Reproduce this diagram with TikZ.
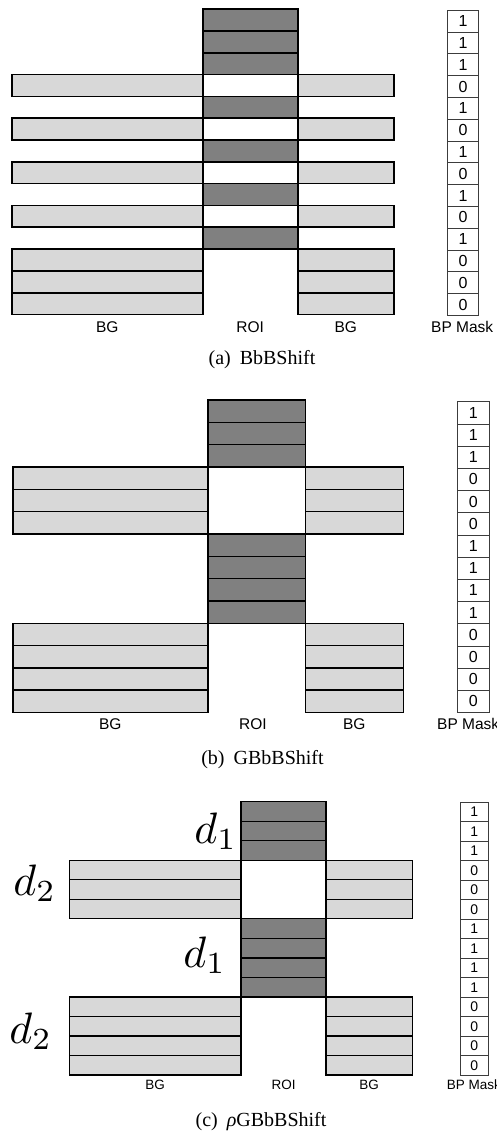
\documentclass[tikz,border=0pt]{standalone}
\usepackage{fontspec}
\setmainfont{Liberation Serif}
\newfontfamily\labfont{Liberation Sans}
\definecolor{roidark}{RGB}{128,128,128}
\definecolor{bglight}{RGB}{216,216,216}
\definecolor{maskline}{RGB}{60,60,60}
\begin{document}
\begin{tikzpicture}[x=1pt,y=-1pt,
  roi/.style={draw=black,line width=1.6pt,fill=roidark},
  hole/.style={draw=black,line width=1.6pt,fill=white},
  bg/.style={draw=black,line width=1.6pt,fill=bglight},
  maskcell/.style={draw=maskline,line width=0.8pt,fill=white,inner sep=0pt,font=\labfont\fontsize{16}{16}\selectfont},
  lab/.style={inner sep=0pt,font=\labfont\fontsize{15.5}{16}\selectfont},
  captext/.style={inner sep=0pt,font=\fontsize{20}{22}\selectfont},
  dlab/.style={inner sep=0pt,scale=4.4}]
\useasboundingbox (0,0) rectangle (496,1131);
\clip (0,0) rectangle (496,1131);
% ---------------- (a) BbBShift ----------------
\foreach \i in {0,1,2,4,6,8,10}
  \draw[roi] (202.7,{9.3+\i*21.8}) rectangle (297.7,{9.3+(\i+1)*21.8});
\foreach \i in {3,5,7,9}
  \draw[hole] (202.7,{9.3+\i*21.8}) rectangle (297.7,{9.3+(\i+1)*21.8});
\foreach \i in {3,5,7,9,11,12,13}{
  \draw[bg] (12,{9.3+\i*21.8}) rectangle (202.7,{9.3+(\i+1)*21.8});
  \draw[bg] (297.7,{9.3+\i*21.8}) rectangle (393.7,{9.3+(\i+1)*21.8});
}
\foreach \v [count=\i from 0] in {1,1,1,0,1,0,1,0,1,0,1,0,0,0}
  \node[maskcell,minimum width=31.4pt,minimum height=21.8pt] (ma\i) at (463,{10.3+\i*21.8+10.9}) {\v};
\node[lab] (abg1) at (107.3,327) {BG};
\node[lab] (aroi) at (250.2,327) {ROI};
\node[lab] (abg2) at (345.7,327) {BG};
\node[lab,anchor=west] (amask) at (431,327) {BP Mask};
\node[captext] (acap) at (262,360) {(a)\hspace{0.45em}BbBShift};
% ---------------- (b) GBbBShift ----------------
\foreach \i in {0,1,2,6,7,8,9}
  \draw[roi] (207.7,{400+\i*22.33}) rectangle (305.3,{400+(\i+1)*22.33});
\draw[hole] (207.7,{400+3*22.33}) rectangle (305.3,{400+6*22.33});
\foreach \i in {3,4,5,10,11,12,13}{
  \draw[bg] (12.7,{400+\i*22.33}) rectangle (207.7,{400+(\i+1)*22.33});
  \draw[bg] (305.3,{400+\i*22.33}) rectangle (403.3,{400+(\i+1)*22.33});
}
\foreach \v [count=\i from 0] in {1,1,1,0,0,0,1,1,1,1,0,0,0,0}
  \node[maskcell,minimum width=32pt,minimum height=22.2pt] (mb\i) at (473.3,{401.7+\i*22.2+11.1}) {\v};
\node[lab] (bbg1) at (110.2,724) {BG};
\node[lab] (broi) at (253,724) {ROI};
\node[lab] (bbg2) at (354.3,724) {BG};
\node[lab,anchor=west] (bmask) at (437,724) {BP Mask};
\node[captext] (bcap) at (262.5,760) {(b)\hspace{0.45em}GBbBShift};
% ---------------- (c) rho GBbBShift ----------------
\begin{scope}[roi/.append style={line width=1.3pt},hole/.append style={line width=1.3pt},bg/.append style={line width=1.3pt}]
\foreach \i in {0,1,2,6,7,8,9}
  \draw[roi] (241,{801.7+\i*19.52}) rectangle (326,{801.7+(\i+1)*19.52});
\draw[hole] (241,{801.7+3*19.52}) rectangle (326,{801.7+6*19.52});
\foreach \i in {3,4,5,10,11,12,13}{
  \draw[bg] (69.3,{801.7+\i*19.52}) rectangle (241,{801.7+(\i+1)*19.52});
  \draw[bg] (326,{801.7+\i*19.52}) rectangle (412.3,{801.7+(\i+1)*19.52});
}
\end{scope}
\foreach \v [count=\i from 0] in {1,1,1,0,0,0,1,1,1,1,0,0,0,0}
  \node[maskcell,minimum width=28.7pt,minimum height=19.5pt,font=\labfont\fontsize{14}{14}\selectfont] (mc\i) at (474.3,{802.3+\i*19.5+9.75}) {\v};
\node[dlab,anchor=base east] (d1a) at (238,843) {$d_1$};
\node[dlab,anchor=base east] (d2a) at (57,895) {$d_2$};
\node[dlab,anchor=base east] (d1b) at (227,967) {$d_1$};
\node[dlab,anchor=base east] (d2b) at (53,1043) {$d_2$};
\node[lab,font=\labfont\fontsize{13.5}{14}\selectfont] (cbg1) at (155,1085) {BG};
\node[lab,font=\labfont\fontsize{13.5}{14}\selectfont] (croi) at (283.5,1085) {ROI};
\node[lab,font=\labfont\fontsize{13.5}{14}\selectfont] (cbg2) at (369,1085) {BG};
\node[lab,anchor=west,font=\labfont\fontsize{13.5}{14}\selectfont] (cmask) at (446.7,1085) {BP Mask};
\node[captext] (ccap) at (261,1122) {(c)\hspace{0.45em}{\itshape ρ}GBbBShift};
\end{tikzpicture}
\end{document}
